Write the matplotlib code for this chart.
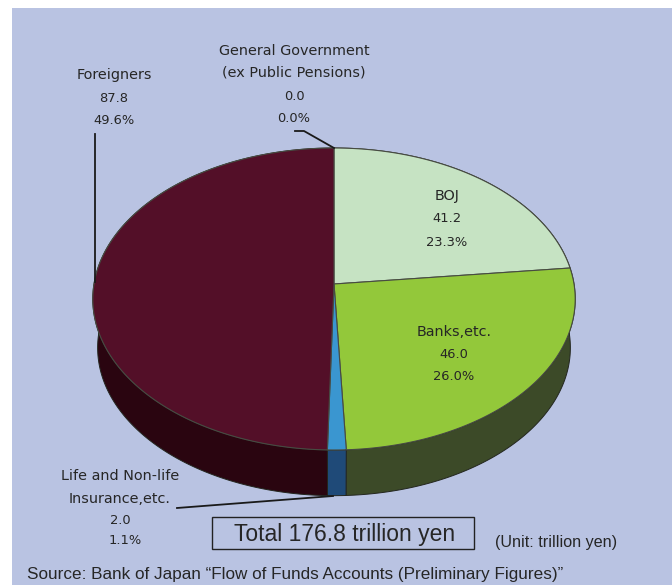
import numpy as np
import matplotlib.pyplot as plt
from matplotlib.patches import Polygon, Rectangle

plt.rcParams['font.family'] = ['DejaVu Sans']

# trillion yen, clockwise from 12 o'clock
sectors = ['General Government', 'BOJ', 'Banks,etc.', 'Life and Non-life', 'Foreigners']
values = [0.0, 41.2, 46.0, 2.0, 87.8]
top_colors = ['#c6e3c3', '#c6e3c3', '#93c83a', '#3a96d0', '#530f28']
wall_colors = ['#3c4a28', '#3c4a28', '#3c4a28', '#1f4a78', '#2a0510']

bg = '#b9c3e2'
ink = '#262626'

fig = plt.figure(figsize=(6.72, 5.85), dpi=100)
ax = fig.add_axes([0, 0, 1, 1])
ax.set_xlim(0, 672)
ax.set_ylim(585, 0)
ax.axis('off')
ax.add_patch(Rectangle((12, 8), 660, 577, fc=bg, ec='none', zorder=0))


def rim(theta, cx, cy, scale):
    # tilted disc: far side is squeezed, so the centre sits above the ellipse middle
    u = np.sin(theta)
    v = np.cos(theta)
    w = 1 + 0.0993 * v
    return cx + scale * 240 * u / w, cy - scale * 149.5 * v / w


fracs = np.array(values) / sum(values)
edges = np.concatenate([[0], np.cumsum(fracs)]) * 2 * np.pi

# side walls first, the top faces cover whatever is hidden
for i in range(len(values)):
    if values[i] == 0:
        continue
    th = np.linspace(edges[i], edges[i + 1], 200)
    x1, y1 = rim(th, 334, 284, 1.0)
    x2, y2 = rim(th[::-1], 334, 333, 0.98)
    pts = np.column_stack([np.concatenate([x1, x2]), np.concatenate([y1, y2])])
    ax.add_patch(Polygon(pts, fc=wall_colors[i], ec='#23261f', lw=0.7, zorder=1))

for i in range(len(values)):
    if values[i] == 0:
        continue
    th = np.linspace(edges[i], edges[i + 1], 200)
    x1, y1 = rim(th, 334, 284, 1.0)
    pts = np.column_stack([np.concatenate([[334], x1]), np.concatenate([[284], y1])])
    ax.add_patch(Polygon(pts, fc=top_colors[i], ec='#474b42', lw=0.8, zorder=2))


# labels: names are set a little larger than the numbers
def label(x, names, numbers, ys):
    lines = names + numbers
    for j, (s, y) in enumerate(zip(lines, ys)):
        size = 10.4 if j < len(names) else 9.4
        ax.text(x, y, s, ha='center', va='center', fontsize=size, color=ink, zorder=5)


label(114, ['Foreigners'], ['87.8', '49.6%'], [75, 98, 121])
label(294, ['General Government', '(ex Public Pensions)'], ['0.0', '0.0%'], [51, 73, 96, 119])
label(447, ['BOJ'], ['41.2', '23.3%'], [196, 219, 242])
label(454, ['Banks,etc.'], ['46.0', '26.0%'], [332, 355, 377])
label(120, ['Life and Non-life', 'Insurance,etc.'], ['2.0'], [476, 499, 521])
label(125, [], ['1.1%'], [541])

# leader lines
ax.plot([95, 95], [134, 282], color='#1a1a1a', lw=1.3, zorder=3)
ax.plot([295, 304, 334], [131, 131, 148], color='#1a1a1a', lw=1.3, zorder=3)
ax.plot([177, 333], [508, 496], color='#1a1a1a', lw=1.3, zorder=3)

ax.add_patch(Rectangle((212, 517), 262, 32, fc='none', ec='#222222', lw=1.0, zorder=4))
ax.text(345, 534, 'Total 176.8 trillion yen', ha='center', va='center', fontsize=16.5,
        family='Liberation Sans', color=ink, zorder=5)
ax.text(556, 542, '(Unit: trillion yen)', ha='center', va='center', fontsize=11.6,
        family='Liberation Sans', color=ink, zorder=5)
ax.text(27, 574, 'Source: Bank of Japan \u201cFlow of Funds Accounts (Preliminary Figures)\u201d',
        ha='left', va='center', fontsize=12.3, family='Liberation Sans', color=ink, zorder=5)

fig.savefig('out.png', dpi=100, facecolor='white')
